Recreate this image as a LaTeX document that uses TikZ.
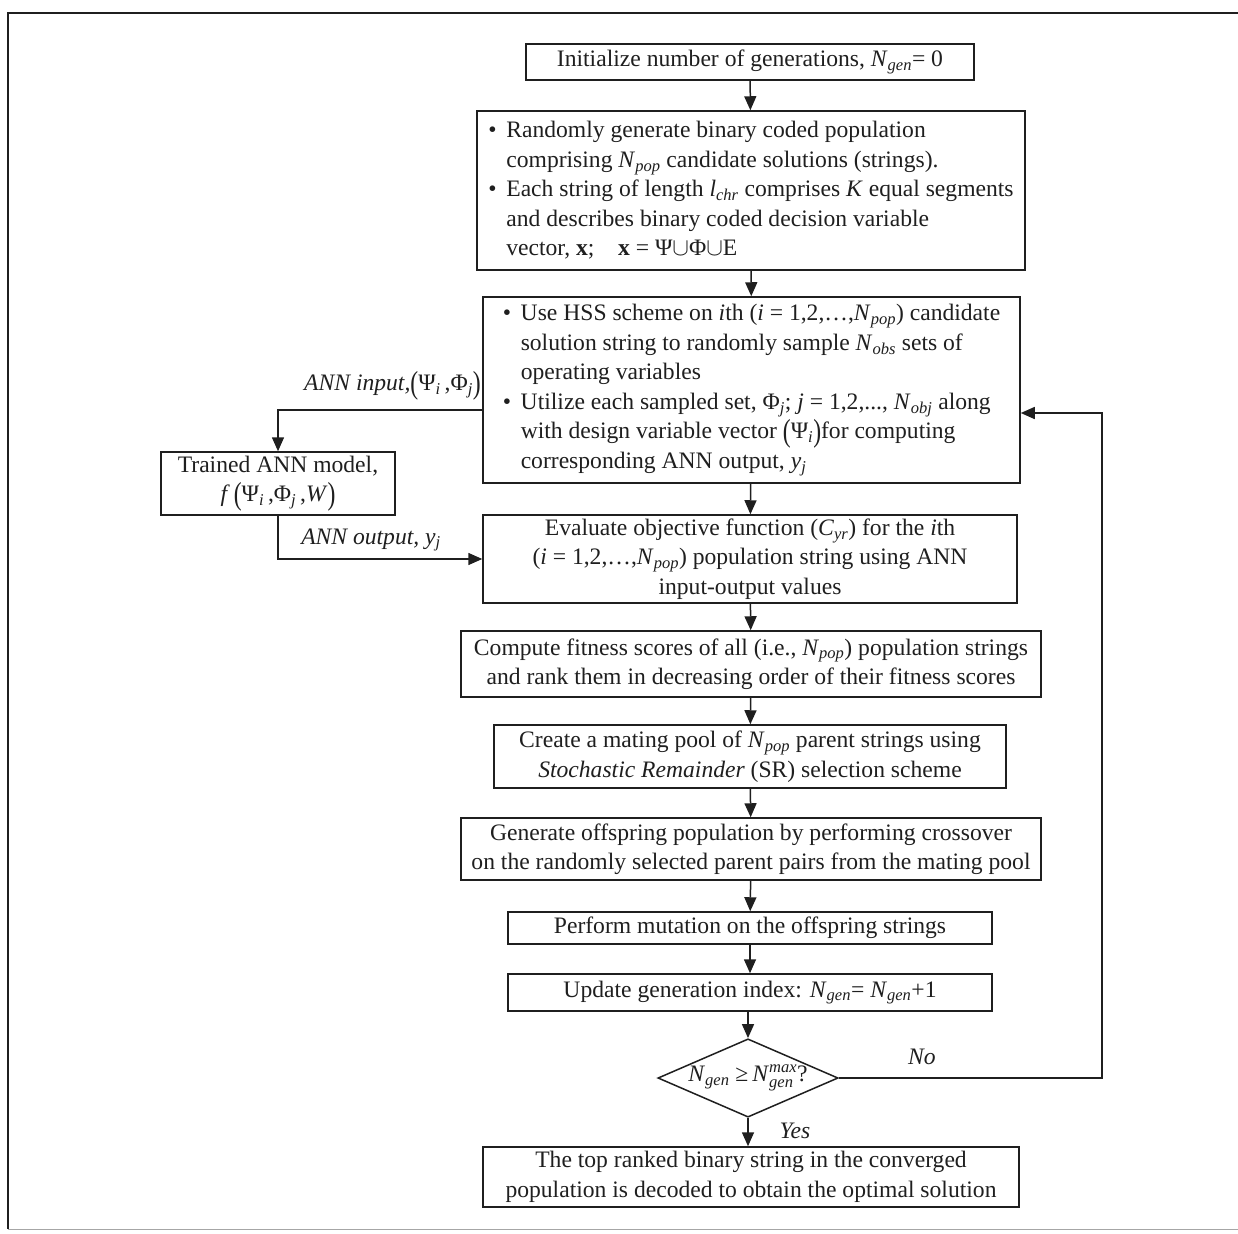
\documentclass[tikz,border=0pt]{standalone}
\usepackage{amsmath}
\usepackage{graphicx}
\usepackage{fontspec}
\setmainfont{Liberation Serif}
\usetikzlibrary{arrows.meta,shapes.geometric}
\newcommand{\fs}{\fontsize{23.6}{29.5}\selectfont}
\newcommand{\Nv}[1]{\textit{N}\textsubscript{\textit{#1}}}
\newcommand{\bp}[1]{\raisebox{-0.12em}{\scalebox{1}[1.35]{#1}}}
\newcommand{\bul}{\makebox[18pt][l]{\textbullet}}
\newcommand{\ind}{\hspace*{18pt}}
\colorlet{ink}{black!88}
\tikzset{
  box/.style={draw=ink, line width=1.5pt, inner sep=0pt, align=center, font=\fs, text=ink},
  bulbox/.style={box, align=left},
  arr/.style={draw=ink, line width=1.5pt, -{Triangle[length=14pt,width=12pt]}},
  lbl/.style={font=\fs\itshape, text=ink, inner sep=0pt},
  frame/.style={draw=ink, line width=1.3pt}
}
\begin{document}
\begin{tikzpicture}[x=1pt,y=-1pt]
\useasboundingbox[fill=white] (0,0) rectangle (1238,1233);
% outer frame
\draw[frame] (1238,13) -- (8,13) -- (8,1229);
\draw[draw=black!35, line width=1pt] (8,1229) -- (1238,1229);

% main column
\node[box, minimum width=448pt, minimum height=36pt] (b1) at (750,62)
  {Initialize number of generations, \Nv{gen}= 0};
\node[bulbox, minimum width=548pt, minimum height=159pt] (b2) at (751,190.5)
  {\bul Randomly generate binary coded population\\
   \ind comprising \Nv{pop} candidate solutions (strings).\\
   \bul Each string of length \textit{l}\textsubscript{\textit{chr}} comprises \textit{K} equal segments\\
   \ind and describes binary coded decision variable\\
   \ind vector, \textbf{x};\quad \textbf{x} = Ψ$\cup$Φ$\cup$E};
\node[bulbox, minimum width=537pt, minimum height=186pt] (b3) at (751.5,390)
  {\bul Use HSS scheme on \textit{i}th (\textit{i} = 1,2,\dots,\Nv{pop}) candidate\\
   \ind solution string to randomly sample \Nv{obs} sets of\\
   \ind operating variables\\
   \bul Utilize each sampled set,\ Φ\textsubscript{\textit{j}}; \textit{j} = 1,2,..., \Nv{obj}\ along\\
   \ind with design variable vector\ \bp{(}Ψ\textsubscript{\textit{i}}\bp{)}for computing\\
   \ind corresponding ANN output, \textit{y}\textsubscript{\textit{j}}};
\node[box, minimum width=534pt, minimum height=88pt] (b4) at (750,559)
  {Evaluate objective function (\textit{C}\textsubscript{\textit{yr}}) for the \textit{i}th\\
   (\textit{i} = 1,2,\dots,\Nv{pop}) population string using ANN\\
   input-output values};
\node[box, minimum width=580pt, minimum height=66pt] (b5) at (751,664)
  {Compute fitness scores of all (i.e., \Nv{pop}) population strings\\
   and rank them in decreasing order of their fitness scores};
\node[box, minimum width=512pt, minimum height=63pt] (b6) at (750,756.5)
  {Create a mating pool of \Nv{pop} parent strings using\\
   \textit{Stochastic Remainder} (SR) selection scheme};
\node[box, minimum width=580pt, minimum height=62pt] (b7) at (751,849)
  {Generate offspring population by performing crossover\\
   on the randomly selected parent pairs from the mating pool};
\node[box, minimum width=484pt, minimum height=32pt] (b8) at (750,928)
  {Perform mutation on the offspring strings};
\node[box, minimum width=484pt, minimum height=37pt] (b9) at (750,992.5)
  {Update generation index: \Nv{gen}= \Nv{gen}+1};
\node[box, shape=diamond, aspect=2.3, minimum width=179pt, minimum height=77pt] (dia) at (748,1078)
  {\Nv{gen} ≥\,\textit{N}$^{\textit{max}}_{\textit{gen}}$?};
\node[box, minimum width=536pt, minimum height=60pt] (b10) at (751,1177)
  {The top ranked binary string in the converged\\
   population is decoded to obtain the optimal solution};

% side box
\node[box, minimum width=234pt, minimum height=63pt] (ann) at (278,483.5)
  {Trained ANN model,\\
   \textit{f}\,\bp{(}Ψ\textsubscript{\textit{i}}\,,Φ\textsubscript{\textit{j}}\,,\textit{W}\bp{)}};

% helper coordinates
\coordinate (inL) at (278,410);
\coordinate (loop) at (1102,413);

% main flow
\draw[arr] (b1) -- (b2);
\draw[arr] (b2) -- (b3);
\draw[arr] (b3) -- (b4);
\draw[arr] (b4) -- (b5);
\draw[arr] (b5) -- (b6);
\draw[arr] (b6) -- (b7);
\draw[arr] (b7) -- (b8);
\draw[arr] (b8) -- (b9);
\draw[arr] (b9.south -| dia.north) -- (dia.north);
\draw[arr] (dia.south) -- (dia.south |- b10.north);

% ANN links
\draw[arr] (b3.west |- inL) -- (inL) -- (ann.north);
\draw[arr] (ann.south) |- (b4.west);

% loop back
\draw[arr] (dia.east) -| (loop) -- (b3.east |- loop);

% labels
\node[lbl, anchor=east] (lin) at (481,386)
  {ANN input,\upshape\bp{(}Ψ\textsubscript{\textit{i}}\,,Φ\textsubscript{\textit{j}}\bp{)}};
\node[lbl] (lout) at (371,540) {ANN output, \textit{y}\textsubscript{\textit{j}}};
\node[lbl] (lno) at (922,1057) {No};
\node[lbl] (lyes) at (795,1131) {Yes};
\end{tikzpicture}
\end{document}
